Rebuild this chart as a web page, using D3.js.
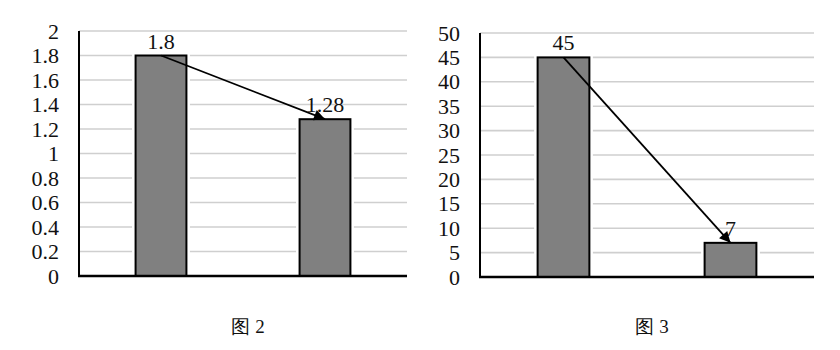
<!DOCTYPE html>
<html>
<head>
<meta charset="utf-8">
<script src="https://cdn.jsdelivr.net/npm/d3@7"></script>
<style>
  body { margin: 0; background: #fff; }
</style>
</head>
<body>
<div id="chart"></div>
<script>

// data for the two figures
var categories = ["前", "后"];
var fig2Values = [1.8, 1.28];
var fig2Ticks = [0, 0.2, 0.4, 0.6, 0.8, 1, 1.2, 1.4, 1.6, 1.8, 2];
var fig3Values = [45, 7];
var fig3Ticks = [0, 5, 10, 15, 20, 25, 30, 35, 40, 45, 50];
var captions = ["图 2", "图 3"];

var width = 840, height = 350;
var serif = "Liberation Serif";

var svg = d3.select("#chart")
    .append("svg")
    .attr("width", width)
    .attr("height", height);

svg.append("defs").append("marker")
    .attr("id", "arrow")
    .attr("viewBox", "0 0 10 10")
    .attr("refX", 10)
    .attr("refY", 5)
    .attr("markerUnits", "userSpaceOnUse")
    .attr("markerWidth", 14)
    .attr("markerHeight", 11)
    .attr("orient", "auto")
  .append("path")
    .attr("d", "M0,0 L10,5 L0,10 Z")
    .attr("fill", "black");

function drawChart(box, values, ticks, caption) {
    var x = d3.scaleBand()
        .domain(categories)
        .range([box.left, box.right])
        .paddingInner(0.69)
        .paddingOuter(0.345);

    var y = d3.scaleLinear()
        .domain([0, ticks[ticks.length - 1]])
        .range([box.bottom, box.top]);

    var g = svg.append("g");

    // gridlines
    g.append("g")
        .selectAll("line")
        .data(ticks.slice(1))
        .enter().append("line")
        .attr("x1", box.left)
        .attr("x2", box.right)
        .attr("y1", function(d) { return y(d); })
        .attr("y2", function(d) { return y(d); })
        .attr("stroke", "#cfcfcf")
        .attr("stroke-width", 1.6);

    // tick labels
    var yAxis = d3.axisLeft(y)
        .tickValues(ticks)
        .tickSize(0)
        .tickPadding(20)
        .tickFormat(function(d) { return String(+d.toFixed(1)); });

    var ax = g.append("g")
        .attr("transform", "translate(" + box.left + ",0)")
        .call(yAxis)
        .attr("font-family", serif)
        .attr("font-size", 22);
    ax.select(".domain").remove();
    ax.selectAll("text")
        .attr("fill", "#111");

    // white halo so gridlines break around the bars
    g.append("g")
        .selectAll("rect")
        .data(values)
        .enter().append("rect")
        .attr("x", function(d, i) { return x(categories[i]); })
        .attr("y", function(d) { return y(d); })
        .attr("width", x.bandwidth())
        .attr("height", function(d) { return y(0) - y(d); })
        .attr("fill", "white")
        .attr("stroke", "white")
        .attr("stroke-width", 7);

    g.append("g")
        .selectAll("rect")
        .data(values)
        .enter().append("rect")
        .attr("x", function(d, i) { return x(categories[i]); })
        .attr("y", function(d) { return y(d); })
        .attr("width", x.bandwidth())
        .attr("height", function(d) { return y(0) - y(d); })
        .attr("fill", "#808080")
        .attr("stroke", "black")
        .attr("stroke-width", 2);

    // axes lines
    g.append("line")
        .attr("x1", box.left).attr("x2", box.left)
        .attr("y1", box.top).attr("y2", box.bottom)
        .attr("stroke", "black")
        .attr("stroke-width", 2);
    g.append("line")
        .attr("x1", box.left - 1).attr("x2", box.right)
        .attr("y1", box.bottom).attr("y2", box.bottom)
        .attr("stroke", "black")
        .attr("stroke-width", 2.5);

    // value labels
    g.append("g")
        .selectAll("text")
        .data(values)
        .enter().append("text")
        .attr("x", function(d, i) { return x(categories[i]) + x.bandwidth() / 2; })
        .attr("y", function(d) { return y(d) - 7; })
        .attr("text-anchor", "middle")
        .attr("font-size", 22)
        .attr("font-family", serif)
        .attr("fill", "#111")
        .text(function(d) { return d; });

    // arrow from first bar top to second bar top
    var cx = function(i) { return x(categories[i]) + x.bandwidth() / 2; };
    g.append("line")
        .attr("x1", cx(0))
        .attr("y1", y(values[0]))
        .attr("x2", cx(1))
        .attr("y2", y(values[1]))
        .attr("stroke", "black")
        .attr("stroke-width", 1.8)
        .attr("marker-end", "url(#arrow)");

    // caption
    g.append("text")
        .attr("x", (box.left + box.right) / 2 + 5)
        .attr("y", 333)
        .attr("text-anchor", "middle")
        .attr("font-size", 19)
        .attr("font-family", serif)
        .attr("fill", "#111")
        .text(caption);
}

drawChart({ left: 79, right: 407, top: 31, bottom: 276 }, fig2Values, fig2Ticks, captions[0]);
drawChart({ left: 480, right: 814, top: 33, bottom: 277 }, fig3Values, fig3Ticks, captions[1]);

</script>
</body>
</html>
